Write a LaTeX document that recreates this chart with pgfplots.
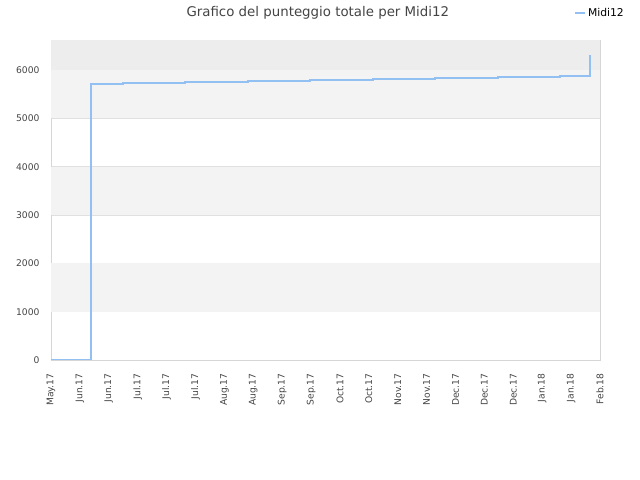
\documentclass[border=0pt]{standalone}
\usepackage{fontspec}
\setmainfont{DejaVu Sans}
\usepackage{pgfplots}
\pgfplotsset{compat=1.18}
\definecolor{linecol}{HTML}{92C0F2}
\definecolor{bandcol}{HTML}{F3F3F3}
\definecolor{topband}{HTML}{EDEDED}
\definecolor{gridcol}{HTML}{E0E0E0}
\definecolor{framecol}{HTML}{D6D6D6}
\definecolor{txtcol}{HTML}{444444}
\begin{document}
\begin{tikzpicture}[x=1bp,y=1bp]
\path[use as bounding box] (0,0) rectangle (640,480);
\begin{axis}[
    at={(51bp,120bp)}, anchor=south west,
    scale only axis, width=549bp, height=320bp,
    xmin=0, xmax=19, ymin=0, ymax=6625,
    axis line style={framecol},
    tick style={draw=none},
    ytick={0,1000,2000,3000,4000,5000,6000},
    xtick={0,...,19},
    xticklabels={May.17,Jun.17,Jun.17,Jul.17,Jul.17,Jul.17,Aug.17,Aug.17,Sep.17,Sep.17,Oct.17,Oct.17,Nov.17,Nov.17,Dec.17,Dec.17,Dec.17,Jan.18,Jan.18,Feb.18},
    x tick label style={rotate=90, anchor=east, font=\fontsize{9.2}{10}\selectfont, text=txtcol, xshift=-10bp},
    y tick label style={font=\fontsize{9.2}{10}\selectfont, text=txtcol, xshift=-8bp},
    /pgf/number format/assume math mode=true,
    scaled y ticks=false,
    yticklabel style={/pgf/number format/fixed, /pgf/number format/1000 sep={}},
    ymajorgrids, major grid style={gridcol, line width=0.6bp},
    title={Grafico del punteggio totale per Midi12},
    title style={at={(axis description cs:0.486,1)}, anchor=base, yshift=18bp, font=\fontsize{13.4}{15}\selectfont, text=txtcol},
    legend style={at={(axis description cs:1,1)}, anchor=east, xshift=26bp, yshift=27bp, draw=none, fill=none, inner sep=0pt, font=\fontsize{10.8}{12}\selectfont, text=black},
    legend image code/.code={\draw[#1, line width=1.8bp] (-4bp,0bp) -- (6bp,0bp);},
  ]
  \fill[bandcol] (axis cs:0,1000) rectangle (axis cs:19,2000);
  \fill[bandcol] (axis cs:0,3000) rectangle (axis cs:19,4000);
  \fill[bandcol] (axis cs:0,5000) rectangle (axis cs:19,6000);
  \fill[topband] (axis cs:0,6000) rectangle (axis cs:19,6625);
  \addplot[const plot, color=linecol, line width=2bp, mark=none] coordinates {
    (0,0)
    (1.38,5720)
    (2.49,5741)
    (4.64,5762)
    (6.82,5782)
    (8.96,5803)
    (11.13,5824)
    (13.29,5845)
    (15.46,5865)
    (17.61,5886)
    (18.67,6315)
  };
  \addlegendentry{Midi12}
\end{axis}
\end{tikzpicture}
\end{document}
